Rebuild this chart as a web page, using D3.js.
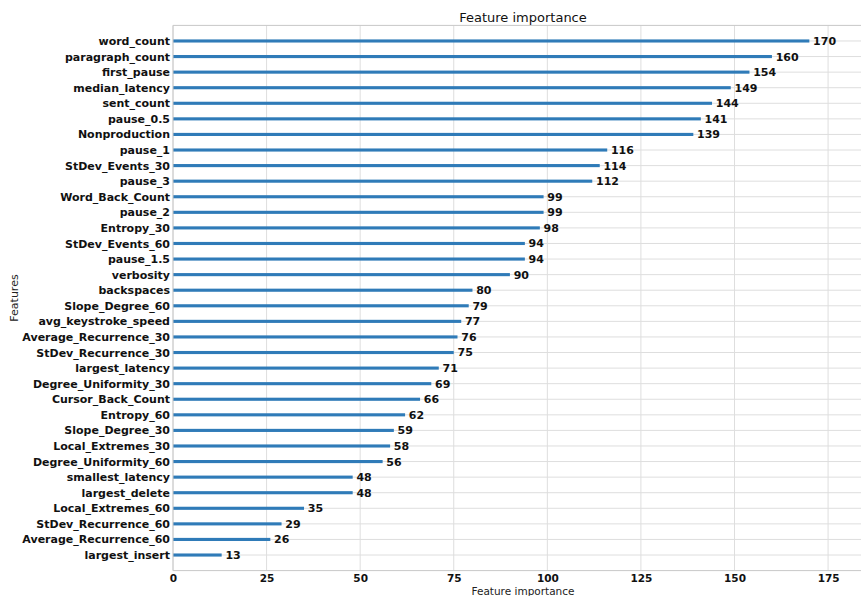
<!DOCTYPE html>
<html>
<head>
<meta charset="utf-8">
<script src="https://cdn.jsdelivr.net/npm/d3@7"></script>
<style>
  html, body { margin: 0; padding: 0; background: #fff; }
  svg { display: block; font-family: "DejaVu Sans", sans-serif; }
</style>
</head>
<body>
<svg id="chart" width="861" height="596"></svg>
<script>
// Split counts per feature, most important first
const features = [
  "word_count", "paragraph_count", "first_pause", "median_latency", "sent_count",
  "pause_0.5", "Nonproduction", "pause_1", "StDev_Events_30", "pause_3",
  "Word_Back_Count", "pause_2", "Entropy_30", "StDev_Events_60", "pause_1.5",
  "verbosity", "backspaces", "Slope_Degree_60", "avg_keystroke_speed", "Average_Recurrence_30",
  "StDev_Recurrence_30", "largest_latency", "Degree_Uniformity_30", "Cursor_Back_Count", "Entropy_60",
  "Slope_Degree_30", "Local_Extremes_30", "Degree_Uniformity_60", "smallest_latency", "largest_delete",
  "Local_Extremes_60", "StDev_Recurrence_60", "Average_Recurrence_60", "largest_insert"
];
const importance = [
  170, 160, 154, 149, 144,
  141, 139, 116, 114, 112,
  99, 99, 98, 94, 94,
  90, 80, 79, 77, 76,
  75, 71, 69, 66, 62,
  59, 58, 56, 48, 48,
  35, 29, 26, 13
];
const xTicks = [0, 25, 50, 75, 100, 125, 150, 175];

const svg = d3.select("#chart");
const margin = { left: 173, top: 25.4, right: 873, bottom: 570.6 };
const n = features.length;

const x = d3.scaleLinear()
  .domain([0, d3.max(importance) * 1.1])
  .range([margin.left, margin.right]);

// index 0 sits at the top; one spare slot above and below
const y = d3.scaleLinear()
  .domain([-1, n])
  .range([margin.top, margin.bottom]);

const gridColor = "#dedede";
const spineColor = "#c8c8c8";

// grid
const grid = svg.append("g");
grid.selectAll("line.vg").data(xTicks).join("line")
  .attr("x1", d => x(d)).attr("x2", d => x(d))
  .attr("y1", margin.top).attr("y2", margin.bottom)
  .attr("stroke", gridColor).attr("stroke-width", 1);
grid.selectAll("line.hg").data(features).join("line")
  .attr("x1", margin.left).attr("x2", margin.right)
  .attr("y1", (d, i) => y(i)).attr("y2", (d, i) => y(i))
  .attr("stroke", gridColor).attr("stroke-width", 1);

// bars
const barH = (y(1) - y(0)) * 0.2;
svg.append("g").selectAll("rect").data(importance).join("rect")
  .attr("x", x(0))
  .attr("y", (d, i) => y(i) - barH / 2)
  .attr("width", d => x(d) - x(0))
  .attr("height", barH)
  .attr("fill", "#2f7bb8");

// value labels
svg.append("g").selectAll("text").data(importance).join("text")
  .attr("x", d => x(d + 1))
  .attr("y", (d, i) => y(i))
  .attr("dy", "0.36em")
  .attr("font-size", 11)
  .attr("font-weight", "bold")
  .attr("fill", "#111")
  .text(d => d);

// spines
svg.append("line").attr("x1", margin.left).attr("x2", margin.left)
  .attr("y1", margin.top).attr("y2", margin.bottom)
  .attr("stroke", spineColor);
svg.append("line").attr("x1", margin.left).attr("x2", margin.right)
  .attr("y1", margin.top).attr("y2", margin.top)
  .attr("stroke", spineColor);
svg.append("line").attr("x1", margin.left).attr("x2", margin.right)
  .attr("y1", margin.bottom).attr("y2", margin.bottom)
  .attr("stroke", spineColor);

// y axis labels
const yAxis = d3.axisLeft(y)
  .tickValues(d3.range(n))
  .tickFormat(i => features[i])
  .tickSize(0)
  .tickPadding(3);
const gy = svg.append("g").attr("transform", `translate(${margin.left},0)`).call(yAxis);
gy.select(".domain").remove();
gy.selectAll("text")
  .attr("font-size", 11).attr("font-weight", "bold")
  .attr("font-family", "DejaVu Sans").attr("fill", "#111");

// x axis labels
const xAxis = d3.axisBottom(x).tickValues(xTicks).tickSize(0).tickPadding(4);
const gx = svg.append("g").attr("transform", `translate(0,${margin.bottom})`).call(xAxis);
gx.select(".domain").remove();
gx.selectAll("text")
  .attr("font-size", 10.5).attr("font-weight", "bold")
  .attr("font-family", "DejaVu Sans").attr("fill", "#111");

// titles
const cx = (margin.left + margin.right) / 2;
svg.append("text").attr("x", cx).attr("y", 22)
  .attr("text-anchor", "middle").attr("font-size", 13).attr("fill", "#111")
  .text("Feature importance");
svg.append("text").attr("x", cx).attr("y", 595)
  .attr("text-anchor", "middle").attr("font-size", 10.5).attr("fill", "#222")
  .text("Feature importance");
svg.append("text")
  .attr("transform", `translate(18,${(margin.top + margin.bottom) / 2}) rotate(-90)`)
  .attr("text-anchor", "middle").attr("font-size", 11).attr("fill", "#222")
  .text("Features");
</script>
</body>
</html>
